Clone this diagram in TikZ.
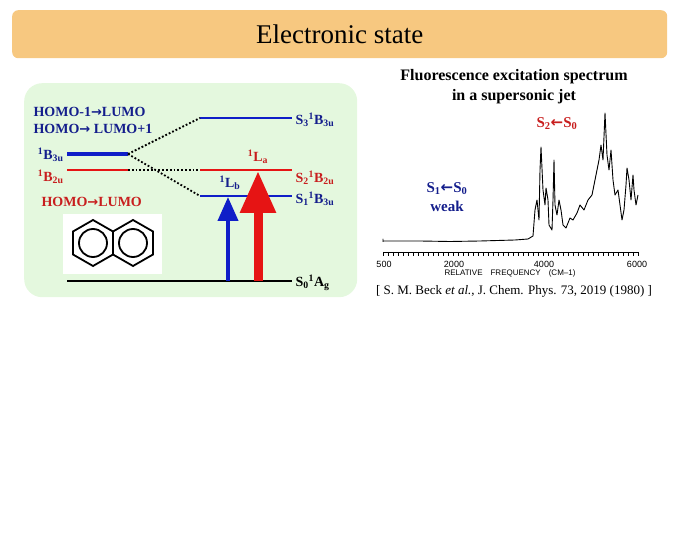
\documentclass[tikz,border=0pt]{standalone}
\usepackage{fontspec}
\setmainfont{Liberation Serif}
\newfontfamily\symfont{DejaVu Sans}
\setsansfont{Liberation Sans}
\usetikzlibrary{arrows.meta}
\definecolor{banner}{RGB}{247,200,128}
\definecolor{panel}{RGB}{228,248,222}
\definecolor{navy}{RGB}{20,30,140}
\definecolor{lvlblue}{RGB}{15,30,200}
\definecolor{lvlred}{RGB}{230,20,20}
\definecolor{txtred}{RGB}{200,30,30}
\newcommand{\ra}{{\symfont\fontsize{13}{13}\selectfont→}}
\newcommand{\la}{{\symfont\fontsize{15}{15}\selectfont←}}
\newcommand{\up}[1]{\textsuperscript{#1}}
\newcommand{\dn}[1]{\textsubscript{#1}}
\tikzset{
  level/.style={line width=2pt},
  corr/.style={line width=1.8pt,dotted},
  lab/.style={anchor=west,font=\bfseries\fontsize{14}{16}\selectfont},
  excite/.style 2 args={-{Triangle[width=#1,length=#2]}}
}
\begin{document}
\begin{tikzpicture}[x=1pt,y=-1pt]
  \useasboundingbox (0,0) rectangle (680,553);
  % banner
  \node[fill=banner,rounded corners=6pt,minimum width=655,minimum height=48,anchor=north west] (ban) at (12,10) {};
  \node[font=\fontsize{27}{29}\selectfont] (title) at (ban.center) {Electronic state};
  % level panel
  \node[fill=panel,rounded corners=18pt,minimum width=333,minimum height=214,anchor=north west] (pan) at (24,83) {};
  \node[lab,text=navy] (mix1) at (30,112) {HOMO-1\ra LUMO};
  \node[lab,text=navy] (mix2) at (30,129) {HOMO\ra\ LUMO+1};
  \node[lab,text=txtred] (hl) at (38,202) {HOMO\ra LUMO};
  % left levels
  \coordinate (b3l) at (67,154); \coordinate (b3r) at (128,154);
  \coordinate (b2l) at (67,170); \coordinate (b2r) at (128,170);
  \draw[line width=4.5pt,lvlblue] (b3l) -- (b3r);
  \draw[level,lvlred] (b2l) -- (b2r);
  \node[lab,text=navy,anchor=east] (lb3) at ([yshift=-1]b3l) {\up{1}B\dn{3u}};
  \node[lab,text=txtred,anchor=east] (lb2) at ([yshift=-7]b2l) {\up{1}B\dn{2u}};
  % right levels
  \coordinate (s3l) at (200,118); \coordinate (s3r) at (292,118);
  \coordinate (s2l) at (200,170); \coordinate (s2r) at (292,170);
  \coordinate (s1l) at (200,196); \coordinate (s1r) at (292,196);
  \coordinate (s0l) at (67,281);  \coordinate (s0r) at (292,281);
  \draw[level,lvlblue] (s3l) -- (s3r);
  \draw[level,lvlred] (s2l) -- (s2r);
  \draw[level,lvlblue] (s1l) -- (s1r);
  \draw[level,black] (s0l) -- (s0r);
  \node[lab,text=navy] (ls3) at ([yshift=-2]s3r) {S\dn{3}\up{1}B\dn{3u}};
  \node[lab,text=txtred] (ls2) at ([yshift=-8]s2r) {S\dn{2}\up{1}B\dn{2u}};
  \node[lab,text=navy] (ls1) at ([yshift=-3]s1r) {S\dn{1}\up{1}B\dn{3u}};
  \node[lab] (ls0) at ([yshift=-2]s0r) {S\dn{0}\up{1}A\dn{g}};
  % correlation lines
  \draw[corr] (b3r) -- (s3l);
  \draw[corr] (b3r) -- (s1l);
  \draw[corr] (b2r) -- (s2l);
  % excitations
  \coordinate (lbb) at (228,281); \coordinate (lbt) at (228,197);
  \coordinate (lab) at (258,281); \coordinate (lat) at (258,171);
  \draw[excite={20}{24},line width=4pt,lvlblue] (lbb) -- (lbt);
  \draw[excite={34}{42},line width=9pt,lvlred] (lab) -- (lat);
  \node[lab,anchor=center,text=navy] (Lb) at (230,183) {\up{1}L\dn{b}};
  \node[lab,anchor=center,text=txtred] (La) at (258,157) {\up{1}L\dn{a}};
  % naphthalene
  \node[fill=white,minimum width=99,minimum height=60,anchor=north west] (mol) at (63,214) {};
  \foreach \cx in {93,133} {
    \draw[line width=1.8pt] (\cx,220) -- (\cx+20,231.5) -- (\cx+20,254.5) -- (\cx,266) -- (\cx-20,254.5) -- (\cx-20,231.5) -- cycle;
    \draw[line width=1.8pt] (\cx,243) circle (14);
  }
  % spectrum
  \node[font=\bfseries\fontsize{16}{20}\selectfont,align=center] (spt) at (514,87) {Fluorescence excitation spectrum\\in a supersonic jet};
  \node[text=txtred,font=\bfseries\fontsize{15}{15}\selectfont] (s2s0) at (557,124) {S\dn{2}\la S\dn{0}};
  \node[text=navy,font=\bfseries\fontsize{15}{19}\selectfont,align=center] (s1s0) at (447,197) {S\dn{1}\la S\dn{0}\\weak};
  \draw[line width=0.9pt,line join=round] (383,242) -- (383,239) -- (383,241) -- (420,241) -- (450,241.5) -- (480,241) -- (515,240) -- (528,239)
    -- (533,236) -- (535,210) -- (537,200) -- (539,220) -- (540,170) -- (541,147) -- (543,190) -- (545,205) -- (546,188) -- (548,200)
    -- (549,225) -- (552,230) -- (553,200) -- (554,160) -- (555,205) -- (557,215) -- (559,200) -- (561,210) -- (563,225) -- (566,228)
    -- (570,218) -- (573,220) -- (577,213) -- (580,205) -- (584,210) -- (588,200) -- (592,195) -- (594,185) -- (597,170) -- (599,160)
    -- (601,145) -- (603,160) -- (605,113) -- (607,155) -- (609,170) -- (611,150) -- (613,180) -- (615,195) -- (618,190) -- (620,205)
    -- (622,220) -- (624,210) -- (626,185) -- (627,168) -- (629,180) -- (631,200) -- (633,175) -- (634,190) -- (636,205) -- (638,195);
  \coordinate (axl) at (383,252); \coordinate (axr) at (638,252);
  \draw[line width=0.6pt] (axl) -- (axr);
  \foreach \i in {0,...,51} \draw[line width=0.5pt] (383+\i*5,252) -- ++(0,4);
  \foreach \x/\t in {384/500,454/2000,544/4000,637/6000}
    \node[font=\sffamily\fontsize{9}{9}\selectfont] at (\x,264) {\t};
  \node[font=\sffamily\fontsize{8}{8}\selectfont] (freq) at (510,273) {RELATIVE\quad FREQUENCY\quad (CM--1)};
  \node[font=\fontsize{13}{14}\selectfont] (cite) at (514,291) {[ S. M. Beck \textit{et al.}, J. Chem. Phys. 73, 2019 (1980) ]};
\end{tikzpicture}
\end{document}
